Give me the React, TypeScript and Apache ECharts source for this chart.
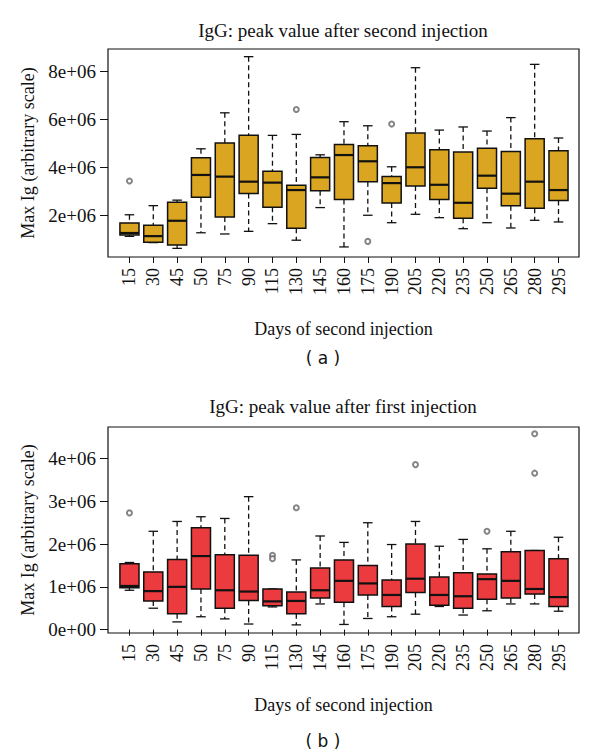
import React, { useEffect, useRef } from 'react';
import * as echarts from 'echarts';

// x categories (days)
const days = ['15', '30', '45', '50', '75', '90', '115', '130', '145', '160', '175', '190', '205', '220', '235', '250', '265', '280', '295'];

// Panel (a): IgG peak value after second injection (units of 1e6)
const secondLower = [1.11, 0.85, 0.61, 1.26, 1.21, 1.32, 1.64, 0.95, 2.31, 0.67, 1.99, 1.68, 2.03, 1.89, 1.43, 1.68, 1.46, 1.78, 1.71];
const secondQ1 = [1.17, 0.87, 0.75, 2.74, 1.92, 2.9, 2.32, 1.45, 3.01, 2.65, 3.39, 2.5, 3.21, 2.65, 1.86, 3.12, 2.39, 2.28, 2.61];
const secondMedian = [1.25, 1.12, 1.76, 3.67, 3.6, 3.39, 3.35, 3.04, 3.57, 4.5, 4.24, 3.33, 3.99, 3.26, 2.51, 3.64, 2.89, 3.39, 3.04];
const secondQ3 = [1.67, 1.57, 2.53, 4.39, 5.0, 5.32, 3.82, 3.24, 4.4, 4.94, 4.89, 3.61, 5.42, 4.72, 4.63, 4.78, 4.65, 5.18, 4.68];
const secondUpper = [2.01, 2.39, 2.62, 4.76, 6.26, 8.6, 5.32, 5.36, 4.51, 5.89, 5.72, 4.01, 8.14, 5.54, 5.67, 5.5, 6.06, 8.28, 5.21];
const secondOutlierDay = ['15', '130', '175', '190'];
const secondOutlierValue = [3.42, 6.4, 0.9, 5.79];

// Panel (b): IgG peak value after first injection (units of 1e6)
const firstLower = [0.92, 0.5, 0.18, 0.3, 0.25, 0.13, 0.53, 0.11, 0.6, 0.12, 0.26, 0.3, 0.36, 0.54, 0.34, 0.44, 0.6, 0.6, 0.43];
const firstQ1 = [0.98, 0.67, 0.37, 0.95, 0.5, 0.68, 0.56, 0.37, 0.74, 0.64, 0.81, 0.54, 0.87, 0.57, 0.5, 0.71, 0.74, 0.83, 0.54];
const firstMedian = [1.02, 0.9, 1.0, 1.72, 0.92, 0.89, 0.66, 0.67, 0.92, 1.14, 1.08, 0.81, 1.19, 0.81, 0.78, 1.18, 1.14, 0.95, 0.76];
const firstQ3 = [1.54, 1.35, 1.64, 2.38, 1.75, 1.74, 0.95, 0.88, 1.44, 1.63, 1.5, 1.16, 2.0, 1.23, 1.33, 1.3, 1.82, 1.85, 1.66];
const firstUpper = [1.57, 2.3, 2.53, 2.64, 2.6, 3.11, 0.95, 1.63, 2.19, 2.04, 2.5, 1.99, 2.53, 1.95, 2.11, 1.89, 2.3, 1.85, 2.16];
const firstOutlierDay = ['15', '115', '115', '130', '205', '250', '280', '280'];
const firstOutlierValue = [2.73, 1.74, 1.66, 2.85, 3.86, 2.3, 4.58, 3.66];

const topTicks = [2, 4, 6, 8];
const bottomTicks = [0, 1, 2, 3, 4];

const FONT = 'Liberation Serif';

function boxRows(lo: number[], q1: number[], md: number[], q3: number[], hi: number[]) {
  return days.map((_, i) => [i + 1, lo[i], q1[i], md[i], q3[i], hi[i]]);
}
function outlierRows(d: string[], v: number[]) {
  return d.map((day, i) => [days.indexOf(day) + 1, v[i]]);
}

function makeRender(fill: string) {
  return (params: any, api: any) => {
    const x = api.value(0);
    const lo = api.coord([x, api.value(1)]);
    const q1 = api.coord([x, api.value(2)]);
    const md = api.coord([x, api.value(3)]);
    const q3 = api.coord([x, api.value(4)]);
    const hi = api.coord([x, api.value(5)]);
    const w = api.size([1, 0])[0] * 0.8;
    const cx = lo[0];
    const dash = { stroke: '#111', lineWidth: 1.3, lineDash: [5, 3.5] };
    const solid = { stroke: '#111', lineWidth: 1.3 };
    return {
      type: 'group',
      children: [
        { type: 'line', shape: { x1: cx, y1: hi[1], x2: cx, y2: q3[1] }, style: dash },
        { type: 'line', shape: { x1: cx, y1: q1[1], x2: cx, y2: lo[1] }, style: dash },
        { type: 'line', shape: { x1: cx - w / 4, y1: hi[1], x2: cx + w / 4, y2: hi[1] }, style: solid },
        { type: 'line', shape: { x1: cx - w / 4, y1: lo[1], x2: cx + w / 4, y2: lo[1] }, style: solid },
        {
          type: 'rect',
          shape: { x: cx - w / 2, y: q3[1], width: w, height: q1[1] - q3[1] },
          style: { fill, stroke: '#111', lineWidth: 1.5 },
        },
        { type: 'line', shape: { x1: cx - w / 2, y1: md[1], x2: cx + w / 2, y2: md[1] }, style: { stroke: '#111', lineWidth: 2.2 } },
      ],
    };
  };
}

function xAxisFor(gridIndex: number) {
  const vals = days.map((_, i) => i + 1);
  return {
    type: 'value',
    gridIndex,
    min: 0.1,
    max: 19.86,
    name: 'Days of second injection',
    nameLocation: 'middle',
    nameGap: 63,
    nameTextStyle: { fontFamily: FONT, fontSize: 18, color: '#111' },
    axisLine: { show: false },
    splitLine: { show: false },
    axisTick: { show: true, inside: false, length: 6, customValues: vals, lineStyle: { color: '#111' } },
    axisLabel: {
      show: true,
      customValues: vals,
      rotate: 90,
      margin: 11,
      fontFamily: FONT,
      fontSize: 18,
      color: '#111',
      formatter: (v: number) => days[Math.round(v) - 1] ?? '',
    },
  };
}

function yAxisFor(gridIndex: number, min: number, max: number, ticks: number[]) {
  return {
    type: 'value',
    gridIndex,
    min,
    max,
    name: 'Max Ig (arbitrary scale)',
    nameLocation: 'middle',
    nameGap: 70,
    nameRotate: 90,
    nameTextStyle: { fontFamily: FONT, fontSize: 18, color: '#111' },
    axisLine: { show: false },
    splitLine: { show: false },
    axisTick: { show: true, inside: false, length: 8, customValues: ticks, lineStyle: { color: '#111' } },
    axisLabel: {
      show: true,
      customValues: ticks,
      margin: 12,
      fontFamily: FONT,
      fontSize: 19,
      color: '#111',
      formatter: (v: number) => (v === 0 ? '0e+00' : `${v}e+06`),
    },
  };
}

export default function App() {
  const ref = useRef<HTMLDivElement>(null);
  useEffect(() => {
    if (!ref.current) return;
    const chart = echarts.init(ref.current, undefined, { renderer: 'svg' });
    const option: any = {
      animation: false,
      backgroundColor: '#fff',
      textStyle: { fontFamily: FONT },
      grid: [
        { left: 108, top: 49, width: 471, height: 208, show: true, borderColor: '#111', borderWidth: 1.2, backgroundColor: 'transparent' },
        { left: 108, top: 427, width: 471, height: 206, show: true, borderColor: '#111', borderWidth: 1.2, backgroundColor: 'transparent' },
      ],
      xAxis: [xAxisFor(0), xAxisFor(1)],
      yAxis: [yAxisFor(0, 0.25, 8.92, topTicks), yAxisFor(1, -0.08, 4.74, bottomTicks)],
      series: [
        {
          type: 'custom',
          xAxisIndex: 0,
          yAxisIndex: 0,
          renderItem: makeRender('#DAA520'),
          encode: { x: 0, y: [1, 2, 3, 4, 5] },
          data: boxRows(secondLower, secondQ1, secondMedian, secondQ3, secondUpper),
        },
        {
          type: 'scatter',
          xAxisIndex: 0,
          yAxisIndex: 0,
          symbol: 'emptyCircle',
          symbolSize: 5,
          itemStyle: { color: '#666', borderWidth: 0.8 },
          data: outlierRows(secondOutlierDay, secondOutlierValue),
        },
        {
          type: 'custom',
          xAxisIndex: 1,
          yAxisIndex: 1,
          renderItem: makeRender('#EC3B3E'),
          encode: { x: 0, y: [1, 2, 3, 4, 5] },
          data: boxRows(firstLower, firstQ1, firstMedian, firstQ3, firstUpper),
        },
        {
          type: 'scatter',
          xAxisIndex: 1,
          yAxisIndex: 1,
          symbol: 'emptyCircle',
          symbolSize: 5,
          itemStyle: { color: '#666', borderWidth: 0.8 },
          data: outlierRows(firstOutlierDay, firstOutlierValue),
        },
      ],
      graphic: [
        {
          type: 'text',
          x: 343,
          y: 30,
          style: { text: 'IgG: peak value after second injection', fontFamily: FONT, fontSize: 19, fill: '#111', align: 'center', verticalAlign: 'middle' },
        },
        {
          type: 'text',
          x: 343,
          y: 406,
          style: { text: 'IgG: peak value after first injection', fontFamily: FONT, fontSize: 19, fill: '#111', align: 'center', verticalAlign: 'middle' },
        },
        {
          type: 'text',
          x: 323,
          y: 358,
          style: { text: '( a )', fontFamily: 'DejaVu Sans', fontSize: 17, fill: '#111', align: 'center', verticalAlign: 'middle' },
        },
        {
          type: 'text',
          x: 323,
          y: 741,
          style: { text: '( b )', fontFamily: 'DejaVu Sans', fontSize: 17, fill: '#111', align: 'center', verticalAlign: 'middle' },
        },
      ],
    };
    chart.setOption(option);
    return () => chart.dispose();
  }, []);
  return <div ref={ref} style={{ position: 'absolute', left: 0, top: 0, width: 600, height: 753, background: '#fff' }} />;
}
